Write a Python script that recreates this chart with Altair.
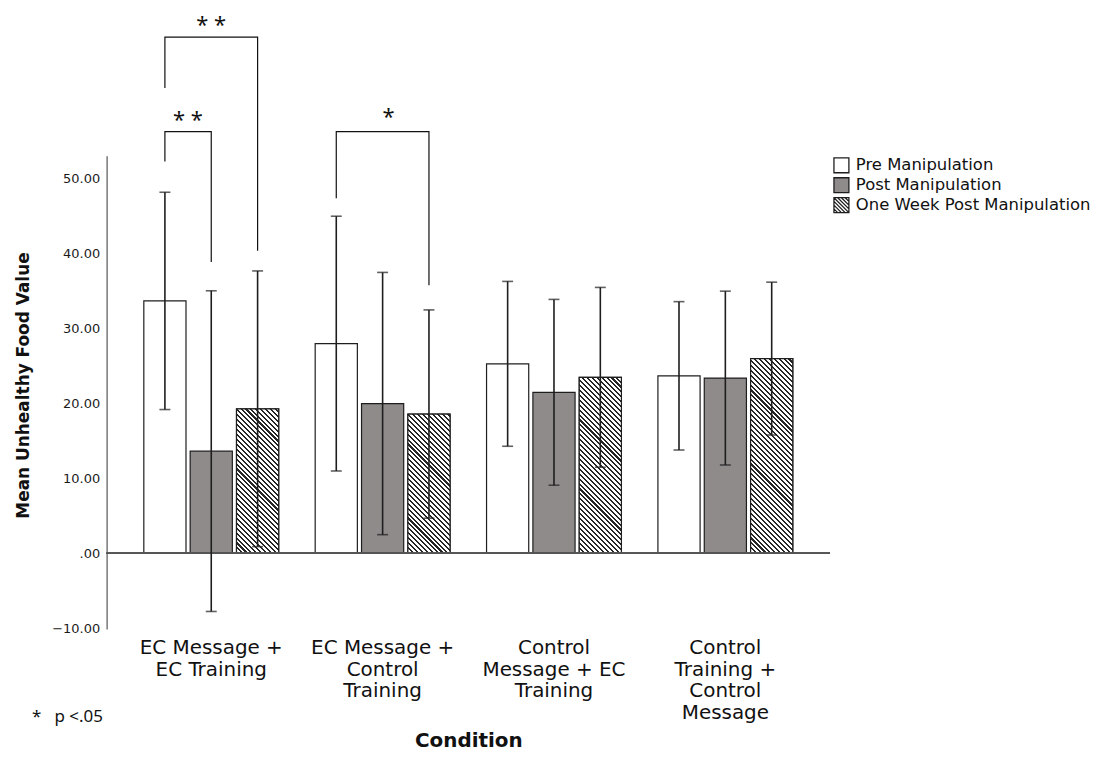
import math
import altair as alt
import pandas as pd

# ---------------- data ----------------
conditions = [
    "EC Message +\nEC Training",
    "EC Message +\nControl\nTraining",
    "Control\nMessage + EC\nTraining",
    "Control\nTraining +\nControl\nMessage",
]
series = ["Pre Manipulation", "Post Manipulation", "One Week Post Manipulation"]

pre_mean = [33.7, 28.0, 25.3, 23.7]
pre_err = [14.5, 17.0, 11.0, 9.9]
post_mean = [13.65, 20.0, 21.5, 23.4]
post_err = [21.4, 17.5, 12.4, 11.6]
week_mean = [19.3, 18.6, 23.5, 26.0]
week_err = [18.4, 13.9, 12.0, 10.2]

# significance brackets
br_condition = [conditions[0], conditions[0], conditions[1]]
br_left = ["Pre Manipulation", "Pre Manipulation", "Pre Manipulation"]
br_right = ["One Week Post Manipulation", "Post Manipulation", "One Week Post Manipulation"]
br_top = [68.9, 56.3, 56.3]
br_left_end = [62.1, 52.3, 47.4]
br_right_end = [40.4, 38.9, 35.8]
br_label = ["* *", "* *", "*"]
br_label_series = ["Post Manipulation", "Pre Manipulation", "Post Manipulation"]
br_label_shift = [0, 23, 6]
br_label_lift = [-5, -5, -8]

note_text = "*\u00a0\u00a0\u00a0p <.05"

# ---------------- layout constants ----------------
W, H = 726, 475
Y_DOM = [-10.1, 53.06]
PI, PO = 0.213, 0.217
SPI = 0.09
FONT = "DejaVu Sans"
GRAY = "#8f8b8b"
INK = "#1e1e1e"

rows = []
for i, c in enumerate(conditions):
    for s, m, e in zip(series, [pre_mean, post_mean, week_mean], [pre_err, post_err, week_err]):
        rows.append({"condition": c, "series": s, "mean": m[i],
                     "lo": m[i] - e[i], "hi": m[i] + e[i]})
df = pd.DataFrame(rows)

brows = []
for k in range(len(br_top)):
    pts = [(br_left[k], br_left_end[k]), (br_left[k], br_top[k]),
           (br_right[k], br_top[k]), (br_right[k], br_right_end[k])]
    for j, (s, y) in enumerate(pts):
        brows.append({"bracket": k, "condition": br_condition[k], "series": s, "y": y, "ord": j})
bdf = pd.DataFrame(brows)


# ---------------- hatch gradient ----------------
def hatch(w, h, period=3.5, dark=0.42, c1="#262626", c2="#ffffff"):
    r = h / w
    a = (1 + r) / (1 + r * r)
    L = (w + h) / math.sqrt(2)
    pt = period / L
    stops = []
    t = 0.0
    while t < 1.0:
        t1 = min(t + pt * dark, 1.0)
        t2 = min(t + pt, 1.0)
        stops += [{"offset": round(t, 5), "color": c1}, {"offset": round(t1, 5), "color": c1},
                  {"offset": round(t1, 5), "color": c2}, {"offset": round(t2, 5), "color": c2}]
        t += pt
    return {"gradient": "linear", "x1": 0, "y1": 1, "x2": round(a, 5), "y2": round(1 - a * r, 5),
            "stops": stops}


step = W / (len(conditions) - PI + 2 * PO)
bandw = step * (1 - PI)
sub = bandw / (len(series) - SPI)
barw = sub * (1 - SPI)
ppu = H / (Y_DOM[1] - Y_DOM[0])

week_grads = [hatch(barw, m * ppu) for m in week_mean]
cond_list = [{"test": "datum.condition === " + repr(c), "value": g}
             for c, g in zip(conditions[:-1], week_grads[:-1])]

SQ = "M-1,-1H1V1H-1Z"
SQ_HATCH = ("M-1,-1H1V1H-1Z M-1,-1L1,1 M-0.5,-1L1,0.5 M0,-1L1,0 M0.5,-1L1,-0.5 "
            "M-1,-0.5L0.5,1 M-1,0L0,1 M-1,0.5L-0.5,1")

xenc = alt.X("condition:N", sort=conditions,
             scale=alt.Scale(paddingInner=PI, paddingOuter=PO),
             axis=alt.Axis(title="Condition", labelExpr="split(datum.label, '\\n')",
                           labelAngle=0, labelFont=FONT, labelFontSize=20, labelColor="#111",
                           labelLineHeight=21.5, labelPadding=9, labelBaseline="top",
                           domain=False, ticks=False, titleFont=FONT, titleFontSize=20,
                           titleFontWeight="bold", titleColor="#111", titleY=112,
                           titleBaseline="middle"))
xs = alt.X("condition:N", sort=conditions)
xoff = alt.XOffset("series:N", sort=series, scale=alt.Scale(paddingInner=SPI, paddingOuter=0))
xo = alt.XOffset("series:N", sort=series)
yscale = alt.Scale(domain=Y_DOM, nice=False, zero=False)
fill_scale = alt.Scale(domain=series, range=["#ffffff", GRAY, "#ffffff"])

legend = alt.Legend(title=None, orient="none", legendX=729, legendY=1,
                    symbolSize=225, symbolStrokeColor=INK, symbolStrokeWidth=1.3,
                    symbolOpacity=1, labelFont=FONT, labelFontSize=16.5, labelColor="#111",
                    labelOffset=6, labelLimit=400, rowPadding=-1, padding=0)

base = alt.Chart(df)

bars = base.mark_bar(stroke=INK, strokeWidth=1.2).encode(
    x=xenc, xOffset=xoff,
    y=alt.Y("mean:Q", scale=yscale,
            axis=alt.Axis(title="Mean Unhealthy Food Value", values=[-10, 0, 10, 20, 30, 40, 50],
                          labelExpr="datum.value == 0 ? '.00' : format(datum.value, '.2f')",
                          labelFont=FONT, labelFontSize=13, labelColor="#1a1a1a", labelPadding=7,
                          ticks=False, grid=False, domainColor="#777", domainWidth=1.5,
                          titleFont=FONT, titleFontSize=17, titleFontWeight="bold",
                          titleColor="#111", titleX=-83, titleY=230, titleBaseline="middle")),
    fill=alt.value("#ffffff", condition={"test": f"datum.series === '{series[1]}'", "value": GRAY}),
)

hatched = base.transform_filter(alt.datum.series == series[2]).mark_bar(
    stroke=INK, strokeWidth=1.2).encode(
    x=xs, xOffset=xo, y=alt.Y("mean:Q"),
    fill=alt.value(week_grads[-1], condition=cond_list),
)

legend_layer = base.mark_point(
    filled=True, strokeWidth=1.3, opacity=0).encode(
    x=xs, xOffset=xo, y=alt.Y("mean:Q"),
    fill=alt.Fill("series:N", sort=series, scale=fill_scale, legend=legend),
    stroke=alt.Stroke("series:N", sort=series,
                      scale=alt.Scale(domain=series, range=[INK, INK, INK]), legend=legend),
    shape=alt.Shape("series:N", sort=series,
                    scale=alt.Scale(domain=series, range=[SQ, SQ, SQ_HATCH]), legend=legend),
)

zero = alt.Chart(df).mark_rule(color="#555", strokeWidth=1.3).encode(y=alt.datum(0))

err = base.mark_rule(color=INK, strokeWidth=1.6).encode(
    x=xs, xOffset=xo, y="lo:Q", y2="hi:Q")
cap_hi = base.mark_tick(color=INK, thickness=1.6, size=11).encode(x=xs, xOffset=xo, y="hi:Q")
cap_lo = base.mark_tick(color=INK, thickness=1.6, size=11).encode(x=xs, xOffset=xo, y="lo:Q")

brackets = alt.Chart(bdf).mark_line(color="#111", strokeWidth=1.2, clip=False).encode(
    x=xs, xOffset=xo, y="y:Q", detail="bracket:N", order="ord:Q")

star_layers = []
for k in range(len(br_label)):
    sdf = pd.DataFrame({"condition": [br_condition[k]], "series": [br_label_series[k]],
                        "y": [br_top[k]], "label": [br_label[k]]})
    star_layers.append(
        alt.Chart(sdf).mark_text(font="Noto Sans", fontSize=22, baseline="alphabetic",
                                 color="#111", dx=br_label_shift[k], dy=br_label_lift[k]).encode(
            x=xs, xOffset=xo, y="y:Q", text="label:N"))

note = alt.Chart(pd.DataFrame({"t": [note_text]})).mark_text(
    font="Noto Sans", fontSize=17, align="left", baseline="middle", color="#111").encode(
    x=alt.value(-75), y=alt.value(563), text="t:N")

chart = alt.layer(bars, hatched, zero, err, cap_hi, cap_lo, brackets, *star_layers, note,
                  legend_layer).properties(
    width=W, height=H,
    autosize=alt.AutoSizeParams(type="none"),
    padding={"left": 99, "top": 147, "right": 262, "bottom": 125},
).configure_view(stroke=None).configure_axis(grid=False)

chart.save("out.html", embed_options={"renderer": "svg", "actions": False})
